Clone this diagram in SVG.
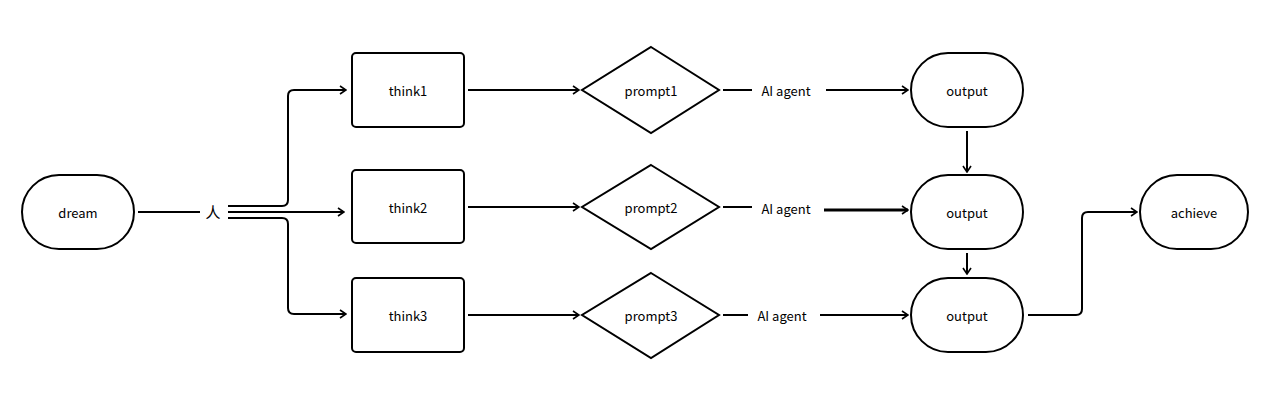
<svg xmlns="http://www.w3.org/2000/svg" width="1280" height="402" viewBox="0 0 1280 402">
<style>
.n{fill:#fff;stroke:#000;stroke-width:2}
.t{font-family:"Noto Sans CJK SC","Noto Sans",sans-serif;font-size:13px;fill:#000;text-anchor:middle;dominant-baseline:central}
.c{fill:none;stroke:#000;stroke-width:2}
.a{marker-end:url(#ah)}
</style>
<defs>
<marker id="ah" viewBox="0 0 10 10" refX="9" refY="5" markerWidth="10" markerHeight="10" markerUnits="userSpaceOnUse" orient="auto">
<path d="M3,1 L9,5 L3,9" fill="none" stroke="#000" stroke-width="1.6"/>
</marker>
</defs>
<rect width="1280" height="402" fill="#fff"/>
<g id="connectors">
<line class="c" x1="138" y1="212" x2="200" y2="212"/>
<path class="c a" d="M228,206 H282 Q288,206 288,200 V96 Q288,90 294,90 H346"/>
<path class="c a" d="M228,212 H344"/>
<path class="c a" d="M228,218 H282 Q288,218 288,224 V308 Q288,314 294,314 H346"/>
<path class="c a" d="M468,90 H579"/>
<path class="c a" d="M468,207 H579"/>
<path class="c a" d="M468,315 H579"/>
<line class="c" x1="723" y1="90" x2="752" y2="90"/>
<line class="c" x1="723" y1="207" x2="752" y2="207"/>
<line class="c" x1="723" y1="315" x2="748" y2="315"/>
<path class="c a" d="M826,90 H908"/>
<path class="c a" d="M824,210 H908" style="stroke-width:3"/>
<path class="c a" d="M820,315 H908"/>
<path class="c a" d="M967,131 V172"/>
<path class="c a" d="M967,253 V274"/>
<path class="c a" d="M1028,315 H1076 Q1082,315 1082,309 V218 Q1082,212 1088,212 H1137"/>
</g>
<g id="dream"><rect class="n" x="22" y="175" width="112" height="74" rx="37"/><text class="t" x="78" y="212">dream</text></g>
<g id="ren"><text class="t" x="213" y="211" style="font-size:15px">人</text></g>
<g id="think1"><rect class="n" x="352" y="53" width="112" height="74" rx="4"/><text class="t" x="408" y="90">think1</text></g>
<g id="think2"><rect class="n" x="352" y="170" width="112" height="73" rx="4"/><text class="t" x="408" y="207">think2</text></g>
<g id="think3"><rect class="n" x="352" y="278" width="112" height="74" rx="4"/><text class="t" x="408" y="315">think3</text></g>
<g id="prompt1"><polygon class="n" points="651,47 719,90 651,133 582,90"/><text class="t" x="651" y="90">prompt1</text></g>
<g id="prompt2"><polygon class="n" points="651,165 719,207 651,249 582,207"/><text class="t" x="651" y="207">prompt2</text></g>
<g id="prompt3"><polygon class="n" points="651,273 719,315 651,358 582,315"/><text class="t" x="651" y="315">prompt3</text></g>
<g id="agent1"><text class="t" x="786" y="90">AI agent</text></g>
<g id="agent2"><text class="t" x="786" y="208">AI agent</text></g>
<g id="agent3"><text class="t" x="782" y="315">AI agent</text></g>
<g id="output1"><rect class="n" x="911" y="53" width="112" height="74" rx="37"/><text class="t" x="967" y="90">output</text></g>
<g id="output2"><rect class="n" x="911" y="175" width="112" height="74" rx="37"/><text class="t" x="967" y="212">output</text></g>
<g id="output3"><rect class="n" x="911" y="278" width="112" height="74" rx="37"/><text class="t" x="967" y="315">output</text></g>
<g id="achieve"><rect class="n" x="1140" y="175" width="108" height="74" rx="37"/><text class="t" x="1194" y="212">achieve</text></g>
</svg>
